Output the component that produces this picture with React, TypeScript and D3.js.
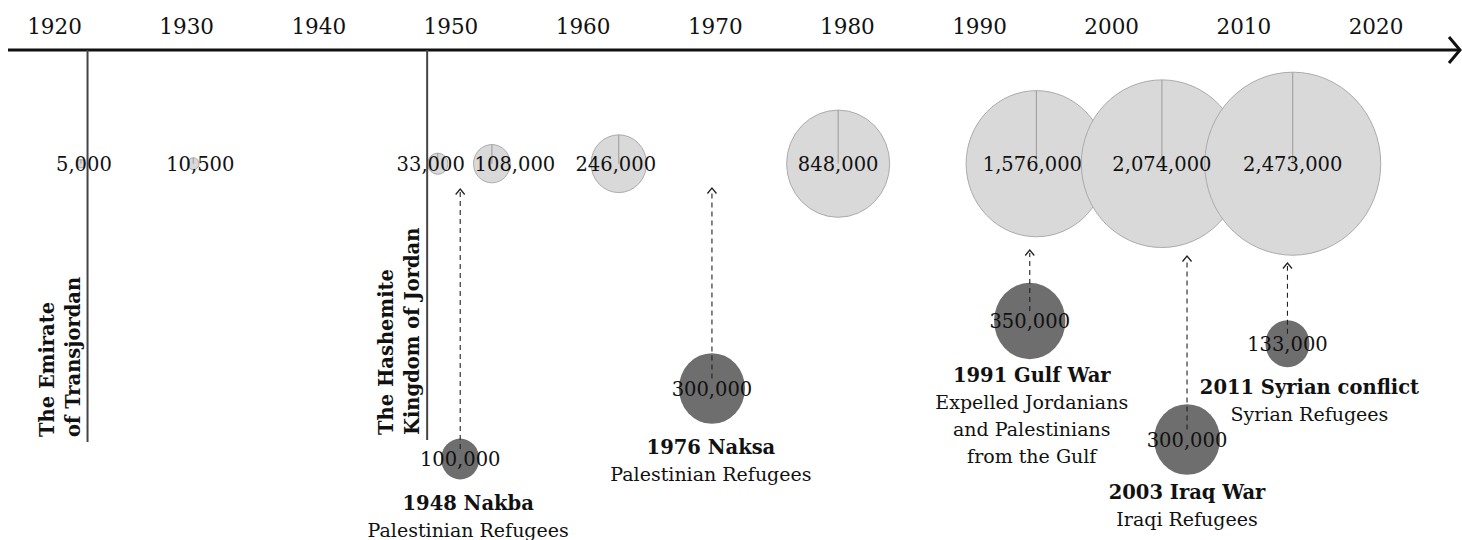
import React from 'react'
import * as d3 from 'd3'

// timeline ticks
const tickYears = [1920, 1930, 1940, 1950, 1960, 1970, 1980, 1990, 2000, 2010, 2020]

// population bubbles (light)
const popYears = [1922, 1930.5, 1949, 1953.1, 1962.7, 1979.3, 1994.3, 2003.8, 2013.7]
const popValues = [5000, 10500, 33000, 108000, 246000, 848000, 1576000, 2074000, 2473000]

// refugee waves (dark)
const eventYears = [1950.7, 1969.75, 1993.8, 2005.7, 2013.3]
const eventValues = [100000, 300000, 350000, 300000, 133000]
const eventTitles = ['1948 Nakba', '1976 Naksa', '1991 Gulf War', '2003 Iraq War', '2011 Syrian conflict']
const eventSubtitles = [
  ['Palestinian Refugees'],
  ['Palestinian Refugees'],
  ['Expelled Jordanians', 'and Palestinians', 'from the Gulf'],
  ['Iraqi Refugees'],
  ['Syrian Refugees'],
]

// state markers
const eraYears = [1922.5, 1948.2]
const eraLabels = [
  ['The Emirate', 'of Transjordan'],
  ['The Hashemite', 'Kingdom of Jordan'],
]

// layout only
const popLabelDx = [3, 7, -7, 23, -3, 0, -4, 0, 0]
const eventCy = [459, 388.5, 321, 439.5, 343.7]
const eventTipY = [189, 188, 250, 256, 263]
const eventTitleY = [510, 454, 382, 499, 394]
const eventLabelDx = [8, -1, 2, 0, 22]
const eraBottom = [442, 440]

const FONT = '"DejaVu Serif", Georgia, serif'
const INK = '#111'
const W = 1462
const H = 540
const AXIS_Y = 50
const BUBBLE_Y = 163.7

export default function App() {
  const x = d3.scaleLinear().domain([1920, 2020]).range([54.5, 1376])
  const rLight = d3.scaleSqrt().domain([0, 2473000]).range([0, 88])
  const rDark = d3.scaleSqrt().domain([0, 350000]).range([0, 35.7])
  const fmt = d3.format(',')
  const line = d3.line()

  return (
    <svg width={W} height={H} style={{position: 'absolute', left: 0, top: 0}} fontFamily={FONT}>
      {/* axis */}
      <path d={line([[8, AXIS_Y], [1460, AXIS_Y]])!} stroke="#111" strokeWidth={3.2} fill="none" />
      <path d={line([[1449, 37], [1460, AXIS_Y], [1449, 63]])!} stroke="#111" strokeWidth={3} fill="none" />
      {tickYears.map(y => (
        <text key={y} x={x(y)} y={34} textAnchor="middle" fontSize={21.5} fill={INK}>{y}</text>
      ))}

      {/* population bubbles */}
      {popValues.map((v, i) => {
        const cx = x(popYears[i])
        const rx = rLight(v)
        const ry = rx * 1.04
        return (
          <g key={v}>
            <ellipse cx={cx} cy={BUBBLE_Y} rx={rx} ry={ry} fill="#d9d9d9" stroke="#ababab" strokeWidth={1} />
            <path d={line([[cx, BUBBLE_Y], [cx, BUBBLE_Y - ry]])!} stroke="#9a9a9a" strokeWidth={1} />
          </g>
        )
      })}
      {popValues.map((v, i) => (
        <text key={v} x={x(popYears[i]) + popLabelDx[i]} y={BUBBLE_Y + 7} textAnchor="middle" fontSize={19.5} fill={INK}>{fmt(v)}</text>
      ))}

      {/* era lines */}
      {eraYears.map((yr, i) => {
        const ex = x(yr)
        return (
          <g key={yr}>
            <path d={line([[ex, AXIS_Y], [ex, eraBottom[i]]])!} stroke="#444" strokeWidth={2} />
            {eraLabels[i].map((t, j) => (
              <text key={t} transform={`translate(${ex - 34 + j * 26},${eraBottom[i] - 5}) rotate(-90)`}
                fontSize={19.5} fontWeight="bold" fill={INK}>{t}</text>
            ))}
          </g>
        )
      })}

      {/* refugee waves */}
      {eventValues.map((v, i) => {
        const cx = x(eventYears[i])
        const cy = eventCy[i]
        const r = rDark(v)
        const tip = eventTipY[i]
        const lx = cx + eventLabelDx[i]
        return (
          <g key={eventTitles[i]}>
            <ellipse cx={cx} cy={cy} rx={r} ry={r * 1.07} fill="#6e6e6e" />
            <path d={line([[cx, cy - 10], [cx, tip + 3]])!} stroke="#222" strokeWidth={1.1} strokeDasharray="5,4" fill="none" />
            <path d={line([[cx - 4.5, tip + 5.5], [cx, tip], [cx + 4.5, tip + 5.5]])!} stroke="#222" strokeWidth={1.3} fill="none" />
            <text x={cx} y={cy + 7} textAnchor="middle" fontSize={19.5} fill={INK}>{fmt(v)}</text>
            <text x={lx} y={eventTitleY[i]} textAnchor="middle" fontSize={19.5} fontWeight="bold" fill={INK}>{eventTitles[i]}</text>
            {eventSubtitles[i].map((s, j) => (
              <text key={s} x={lx} y={eventTitleY[i] + 27 * (j + 1)} textAnchor="middle" fontSize={19} fill={INK}>{s}</text>
            ))}
          </g>
        )
      })}
    </svg>
  )
}
